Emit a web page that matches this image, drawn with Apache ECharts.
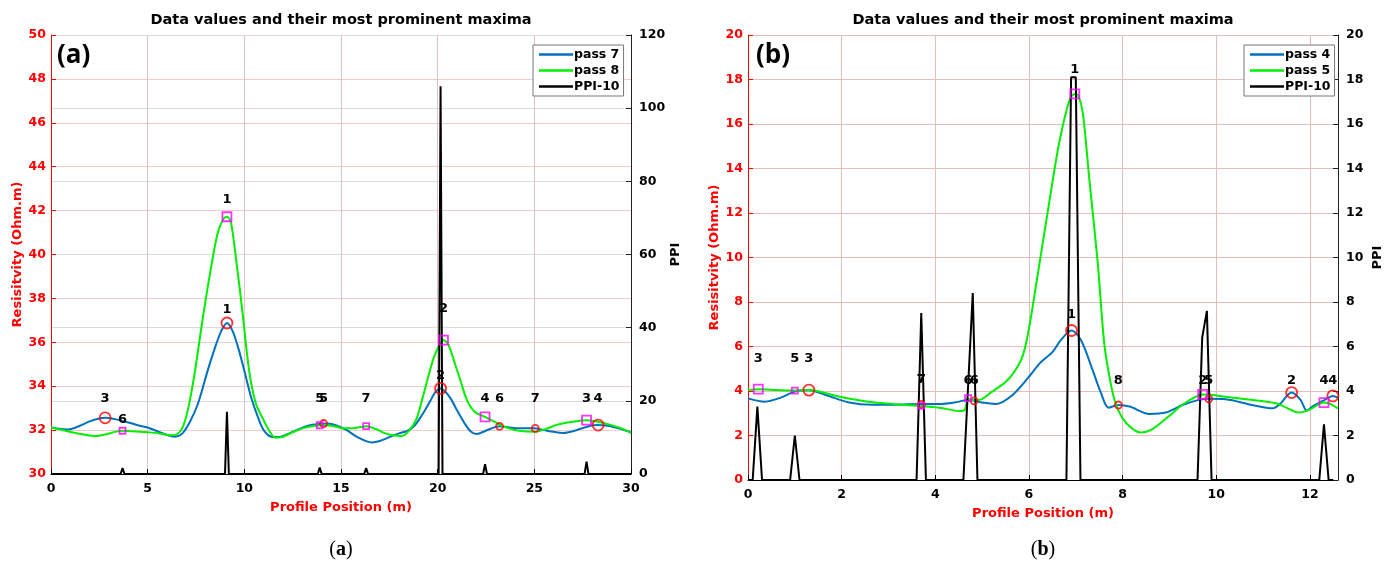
<!DOCTYPE html>
<html><head><meta charset="utf-8">
<script src="https://cdn.jsdelivr.net/npm/echarts@6/dist/echarts.min.js"></script>
<style>html,body{margin:0;padding:0;background:#fff}#c{width:1394px;height:572px}</style>
</head><body><div id="c"></div>
<script>
// ---------------- Panel (a) data ----------------
const pass7X = [0,0.5,0.9,1.5,2.0,2.5,2.8,3.3,4.0,4.5,5.0,5.5,6.0,6.4,6.8,7.2,7.6,8.1,8.5,8.8,9.1,9.4,9.7,10.0,10.35,10.7,11.0,11.4,11.8,12.2,12.7,13.3,13.9,14.3,14.8,15.3,15.8,16.3,16.6,17.0,17.5,18.0,18.4,18.8,19.2,19.6,19.9,20.15,20.4,20.7,21.0,21.4,21.7,22.0,22.3,22.7,23.2,23.7,24.2,25.0,25.5,26.0,26.5,27.0,27.6,28.2,28.8,29.4,30.0];
const pass7Y = [32.12,32.05,32.03,32.2,32.4,32.53,32.56,32.5,32.35,32.22,32.12,31.95,31.78,31.7,31.85,32.4,33.2,34.7,35.8,36.5,36.88,36.5,35.7,34.7,33.5,32.6,32.0,31.7,31.68,31.8,32.0,32.2,32.28,32.3,32.2,32.0,31.7,31.5,31.44,31.5,31.68,31.85,31.95,32.2,32.7,33.3,33.75,33.9,33.75,33.4,32.9,32.3,31.95,31.82,31.9,32.05,32.17,32.12,32.08,32.08,32.0,31.92,31.87,31.95,32.12,32.23,32.2,32.07,31.9];
const pass8X = [0,0.6,1.2,1.8,2.3,2.8,3.3,3.7,4.2,5.0,5.6,6.2,6.5,6.8,7.1,7.45,7.8,8.2,8.6,8.9,9.1,9.3,9.6,9.9,10.25,10.6,11.0,11.3,11.6,12.0,12.5,13.1,13.9,14.5,15.0,15.6,16.3,16.8,17.3,17.8,18.15,18.5,18.9,19.2,19.5,19.8,20.05,20.3,20.55,20.9,21.2,21.5,21.9,22.45,23.0,23.6,24.2,25.0,25.6,26.2,27.0,27.7,28.3,28.9,29.5,30.0];
const pass8Y = [32.12,32.0,31.88,31.78,31.73,31.8,31.92,31.97,31.95,31.9,31.85,31.76,31.8,32.1,33.0,34.7,36.8,39.0,40.9,41.6,41.72,41.5,39.6,37.4,34.7,33.2,32.45,31.95,31.65,31.7,31.9,32.1,32.22,32.2,32.1,32.08,32.18,32.05,31.85,31.75,31.73,31.95,32.5,33.4,34.4,35.3,35.8,36.1,35.9,35.0,34.2,33.4,32.85,32.6,32.35,32.1,31.97,31.92,32.05,32.25,32.38,32.45,32.38,32.25,32.08,31.88];
const ppiAX = [0,3.6,3.7,3.8,9.0,9.1,9.2,13.8,13.9,14.0,16.2,16.3,16.4,20.05,20.15,20.25,22.35,22.45,22.55,27.6,27.7,27.8,30];
const ppiAY = [0,0,1.6,0,0,17,0,0,1.8,0,0,1.6,0,0,106,0,0,2.7,0,0,3.4,0,0];
// peaks (rank = label number)
const peaks7X = [9.1,20.15,2.8,28.3,14.1,23.2,25.05];
const peaks7Y = [36.88,33.9,32.56,32.23,32.3,32.17,32.08];
const peaks7Rank = [1,2,3,4,5,6,7];
const labels7Y = [37.5,34.5,33.45,33.45,33.45,33.45,33.45];
const peaks8X = [9.1,20.3,27.7,22.45,13.9,3.7,16.3];
const peaks8Y = [41.72,36.1,32.45,32.6,32.22,31.97,32.18];
const peaks8Rank = [1,2,3,4,5,6,7];
const labels8Y = [42.5,37.55,33.45,33.45,33.45,32.5,33.45];

// ---------------- Panel (b) data ----------------
const pass4X = [0,0.36,0.7,1.0,1.3,1.66,2.16,2.67,3.38,3.7,4.09,4.45,4.7,4.83,5.0,5.3,5.65,6.0,6.23,6.51,6.68,6.91,7.11,7.36,7.54,7.7,7.91,8.15,8.57,8.92,9.28,9.63,9.84,10.2,10.77,11.2,11.34,11.61,11.8,11.93,12.05,12.3,12.49,12.6];
const pass4Y = [3.67,3.52,3.7,3.98,4.03,3.82,3.48,3.38,3.40,3.42,3.42,3.5,3.6,3.57,3.48,3.42,3.82,4.64,5.24,5.77,6.29,6.72,6.29,4.94,3.9,3.25,3.37,3.3,2.97,3.03,3.37,3.6,3.65,3.63,3.37,3.22,3.37,3.93,3.6,3.12,3.3,3.58,3.78,3.7];
const pass5X = [0,0.22,0.6,1.0,1.3,1.96,2.67,3.38,3.7,4.09,4.52,4.63,4.7,4.8,4.95,5.2,5.5,5.7,5.87,6.0,6.2,6.45,6.65,6.87,6.98,7.05,7.15,7.29,7.47,7.61,7.75,7.85,8.0,8.2,8.38,8.63,8.98,9.27,9.6,9.77,10.2,10.77,11.27,11.45,11.77,11.98,12.3,12.4,12.6];
const pass5Y = [4.05,4.08,4.05,4.02,4.04,3.74,3.49,3.37,3.33,3.25,3.1,3.15,3.65,3.58,3.6,3.95,4.4,4.9,5.6,6.8,9.4,12.7,15.2,17.1,17.35,17.3,16.5,13.5,9.74,6.1,4.3,3.45,2.77,2.32,2.14,2.28,2.85,3.37,3.78,3.84,3.74,3.6,3.45,3.3,3.03,3.15,3.48,3.45,3.22];
const ppiBX = [0,0.1,0.2,0.3,0.9,1.0,1.1,3.6,3.7,3.8,4.6,4.8,4.9,6.8,6.9,7.0,7.1,9.6,9.7,9.8,9.9,12.2,12.3,12.4,12.5];
const ppiBY = [0,0,3.3,0,0,2.0,0,0,7.5,0,0,8.4,0,0,18.1,18.1,0,0,6.4,7.6,0,0,2.5,0,0];
const peaks4X = [6.91,11.61,1.3,12.49,9.84,4.83,3.7,7.91];
const peaks4Y = [6.72,3.93,4.04,3.78,3.65,3.56,3.4,3.37];
const peaks4Rank = [1,2,3,4,5,6,7,8];
const labels4Y = [7.45,4.45,5.45,4.45,4.45,4.45,4.5,4.45];
const peaks5X = [6.98,9.71,0.22,12.3,1.0,4.7,3.7];
const peaks5Y = [17.35,3.85,4.08,3.48,4.02,3.68,3.33];
const peaks5Rank = [1,2,3,4,5,6,7];
const labels5Y = [18.45,4.45,5.45,4.45,5.45,4.45,4.5];

const xTicksA = {min:0, max:30, interval:5};
const yLeftA = {min:30, max:50, interval:2};
const yRightA = {min:0, max:120, interval:20};
const xTicksB = {min:0, max:12.6, interval:2};
const yLeftB = {min:0, max:20, interval:2};
const yRightB = {min:0, max:20, interval:2};

// ---------------- build ----------------
const FONT = "'DejaVu Sans', sans-serif";
const zip = (xs, ys, zs) => xs.map((x, i) => zs ? [x, ys[i], zs[i]] : [x, ys[i]]);
const BLUE = '#0072BD', GREEN = '#00F000', RED = '#FF0000', MAG = '#FF00FF';
const gridPinkH = '#f6caca', gridPinkV = '#dfc3c3', gridGray = '#dcdcdc', gridB = '#e2bebe';
const bold = (c, s) => ({color: c, fontFamily: FONT, fontWeight: 'bold', fontSize: s});

function xAx(g, t, sc) {
  return { type: 'value', gridIndex: g, min: t.min, max: t.max, interval: t.interval,
    axisLine: {show: true, onZero: false, lineStyle: {color: '#000', width: 1}},
    axisTick: {show: true, inside: true, length: 5, lineStyle: {color: '#000'}},
    axisLabel: Object.assign(bold('#000', 12.5), {margin: 8, showMaxLabel: t.max % t.interval === 0}),
    splitLine: {show: true, lineStyle: {color: sc, width: 1}},
    name: 'Profile Position (m)', nameLocation: 'middle', nameGap: 27,
    nameTextStyle: bold(RED, 13) };
}
function yLeft(g, t, sc) {
  return { type: 'value', gridIndex: g, position: 'left', min: t.min, max: t.max, interval: t.interval,
    axisLine: {show: true, lineStyle: {color: RED, width: 1}},
    axisTick: {show: true, inside: true, length: 5, lineStyle: {color: RED}},
    axisLabel: Object.assign(bold(RED, 12.5), {margin: 5}),
    splitLine: {show: true, lineStyle: {color: sc, width: 1}},
    name: 'Resisitvity (Ohm.m)', nameLocation: 'middle', nameGap: 27, nameRotate: 90,
    nameTextStyle: bold(RED, 13) };
}
function yRight(g, t, sc, showSplit) {
  return { type: 'value', gridIndex: g, position: 'right', min: t.min, max: t.max, interval: t.interval,
    axisLine: {show: true, lineStyle: {color: '#222', width: 1}},
    axisTick: {show: true, inside: true, length: 5, lineStyle: {color: '#222'}},
    axisLabel: Object.assign(bold('#000', 12.5), {margin: 8}),
    splitLine: {show: showSplit, lineStyle: {color: sc, width: 1}},
    name: 'PPI', nameLocation: 'middle', nameGap: 33, nameRotate: 90,
    nameTextStyle: bold('#000', 13) };
}
function lineS(name, xi, yi, data, color, smooth, z) {
  return { type: 'line', name, xAxisIndex: xi, yAxisIndex: yi, data, showSymbol: false, symbol: 'none',
    smooth, lineStyle: {color, width: 2}, itemStyle: {color}, z, silent: true, animation: false };
}
function markS(xi, yi, data, symbol, color, big, small) {
  return { type: 'scatter', xAxisIndex: xi, yAxisIndex: yi, data, symbol,
    symbolSize: v => (v[2] <= 4 ? big : small),
    itemStyle: {color: 'rgba(0,0,0,0)', borderColor: color, borderWidth: 1.8}, z: 6, silent: true, animation: false };
}
function labelS(xi, yi, data) {
  return { type: 'scatter', xAxisIndex: xi, yAxisIndex: yi, data, symbolSize: 1,
    itemStyle: {color: 'rgba(0,0,0,0)'}, z: 7, silent: true, animation: false,
    label: {show: true, position: 'inside', formatter: p => String(p.value[2]),
      color: '#000', opacity: 1, textBorderWidth: 0, textBorderColor: 'transparent',
      fontFamily: FONT, fontWeight: 'bold', fontSize: 13} };
}
function legendCfg(left, names) {
  return { left, top: 45, orient: 'vertical', selectedMode: false,
    itemWidth: 34, itemHeight: 2.5, itemGap: 3, padding: [3, 4, 3, 6],
    borderColor: '#777', borderWidth: 1, backgroundColor: '#fff',
    textStyle: Object.assign(bold('#000', 12.5), {padding: [0, 0, 0, -4]}),
    data: names.map(n => ({name: n, icon: 'rect'})) };
}

const chart = echarts.init(document.getElementById('c'));
chart.setOption({
  animation: false,
  backgroundColor: '#fff',
  grid: [
    {left: 51, top: 35, width: 580, height: 439, containLabel: false},
    {left: 748, top: 35, width: 590, height: 445, containLabel: false}
  ],
  xAxis: [xAx(0, xTicksA, gridPinkV), xAx(1, xTicksB, gridB)],
  yAxis: [yLeft(0, yLeftA, gridPinkH), yRight(0, yRightA, gridGray, true),
          yLeft(1, yLeftB, gridB), yRight(1, yRightB, gridB, false)],
  legend: [legendCfg(533, ['pass 7', 'pass 8', 'PPI-10']), legendCfg(1244, ['pass 4', 'pass 5', 'PPI-10'])],
  series: [
    lineS('pass 7', 0, 0, zip(pass7X, pass7Y), BLUE, 0.3, 2),
    lineS('pass 8', 0, 0, zip(pass8X, pass8Y), GREEN, 0.3, 2),
    lineS('PPI-10', 0, 1, zip(ppiAX, ppiAY), '#000', false, 3),
    markS(0, 0, zip(peaks7X, peaks7Y, peaks7Rank), 'circle', RED, 11, 7),
    markS(0, 0, zip(peaks8X, peaks8Y, peaks8Rank), 'rect', MAG, 9, 6),
    labelS(0, 0, zip(peaks7X, labels7Y, peaks7Rank)),
    labelS(0, 0, zip(peaks8X, labels8Y, peaks8Rank)),
    lineS('pass 4', 1, 2, zip(pass4X, pass4Y), BLUE, 0.3, 2),
    lineS('pass 5', 1, 2, zip(pass5X, pass5Y), GREEN, 0.3, 2),
    lineS('PPI-10', 1, 3, zip(ppiBX, ppiBY), '#000', false, 3),
    markS(1, 2, zip(peaks4X, peaks4Y, peaks4Rank), 'circle', RED, 11, 7),
    markS(1, 2, zip(peaks5X, peaks5Y, peaks5Rank), 'rect', MAG, 9, 6),
    labelS(1, 2, zip(peaks4X, labels4Y, peaks4Rank)),
    labelS(1, 2, zip(peaks5X, labels5Y, peaks5Rank))
  ],
  graphic: [
    {type: 'text', x: 341, y: 20, z: 10, style: {text: 'Data values and their most prominent maxima', font: "bold 14.5px 'DejaVu Sans'", fill: '#000', align: 'center', verticalAlign: 'middle', textAlign: 'center', textVerticalAlign: 'middle'}},
    {type: 'text', x: 1043, y: 20, z: 10, style: {text: 'Data values and their most prominent maxima', font: "bold 14.5px 'DejaVu Sans'", fill: '#000', align: 'center', verticalAlign: 'middle', textAlign: 'center', textVerticalAlign: 'middle'}},
    {type: 'text', x: 57, y: 56, z: 10, style: {text: '(a)', font: "bold 26px 'Open Sans'", fill: '#000', align: 'left', verticalAlign: 'middle', textAlign: 'left', textVerticalAlign: 'middle'}},
    {type: 'text', x: 756, y: 56, z: 10, style: {text: '(b)', font: "bold 26px 'Open Sans'", fill: '#000', align: 'left', verticalAlign: 'middle', textAlign: 'left', textVerticalAlign: 'middle'}},
    {type: 'text', x: 341, y: 550, z: 10, style: {text: '({b|a})', font: "20px 'Liberation Serif'", fill: '#000', align: 'center', verticalAlign: 'middle', textAlign: 'center', textVerticalAlign: 'middle', rich: {b: {fontWeight: 'bold', fontSize: 20, fontFamily: 'Liberation Serif'}}}},
    {type: 'text', x: 1043, y: 550, z: 10, style: {text: '({b|b})', font: "20px 'Liberation Serif'", fill: '#000', align: 'center', verticalAlign: 'middle', textAlign: 'center', textVerticalAlign: 'middle', rich: {b: {fontWeight: 'bold', fontSize: 20, fontFamily: 'Liberation Serif'}}}}
  ]
});
</script></body></html>
